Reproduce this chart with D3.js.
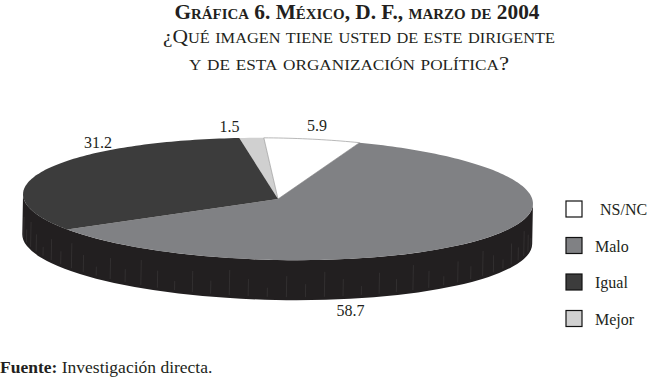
<!DOCTYPE html>
<html>
<head>
<meta charset="utf-8">
<script src="https://cdn.jsdelivr.net/npm/d3@7"></script>
<style>
  body { margin: 0; background: #fff; }
  text { font-family: "Liberation Serif", serif; fill: #231f20; }
</style>
</head>
<body>
<div id="chart"></div>
<script>
// slices in drawing order, clockwise from the top
const categories = ["Mejor", "NS/NC", "Malo", "Igual"];
const values = [1.5, 5.9, 58.7, 31.2];
const legendOrder = ["NS/NC", "Malo", "Igual", "Mejor"];
const titleLines = [
    "Gráfica 6. México, D. F., marzo de 2004",
    "¿Qué imagen tiene usted de este dirigente",
    "y de esta organización política?"
];
const sourceLabel = "Fuente:";
const sourceText = " Investigación directa.";

const width = 651, height = 381;
const cx = 278, cy = 199, rx = 255, ry = 61, depth = 40;
const rad = Math.PI / 180;
// where each value label sits around the rim (degrees, clockwise from top)
const labelAngle = [-10, 8, 165, 320];

const color = d3.scaleOrdinal()
    .domain(categories)
    .range(["#d0d0d0", "#ffffff", "#808184", "#3c3c3c"]);

const svg = d3.select("#chart").append("svg")
    .attr("width", width)
    .attr("height", height);

// title, small caps built by hand
const titleStyle = [
    {y: 19, size: 21, ratio: 0.7, weight: "bold", len: 365, x: 357},
    {y: 43, size: 19, ratio: 0.76, weight: "normal", len: 392, x: 359},
    {y: 70, size: 19, ratio: 0.76, weight: "normal", len: 320, x: 349}
];

function smallCaps(sel, str, size, ratio) {
    const parts = str.match(/[a-záéíóúñü]+|[^a-záéíóúñü]+/g);
    parts.forEach(p => {
        const lower = /[a-záéíóúñü]/.test(p[0]);
        sel.append("tspan")
            .style("font-size", (lower ? size * ratio : size) + "px")
            .text(lower ? p.toUpperCase() : p);
    });
}

svg.append("g").selectAll("text")
    .data(titleLines)
    .join("text")
    .attr("x", (d, i) => titleStyle[i].x)
    .attr("y", (d, i) => titleStyle[i].y)
    .attr("text-anchor", "middle")
    .attr("textLength", (d, i) => titleStyle[i].len)
    .attr("lengthAdjust", "spacingAndGlyphs")
    .style("font-weight", (d, i) => titleStyle[i].weight)
    .each(function(d, i) {
        smallCaps(d3.select(this), d, titleStyle[i].size, titleStyle[i].ratio);
    });

const pie = d3.pie().sort(null)
    .startAngle(-9 * rad)
    .endAngle(351 * rad);
const arcs = pie(values);

function pt(a) {
    return [cx + rx * Math.sin(a), cy - ry * Math.cos(a)];
}

function slicePath(d) {
    const n = Math.max(2, Math.ceil((d.endAngle - d.startAngle) / 0.02));
    const pts = [[cx, cy]];
    for (let i = 0; i <= n; i++) {
        pts.push(pt(d.startAngle + (d.endAngle - d.startAngle) * i / n));
    }
    return d3.line()(pts) + "Z";
}

const pieG = svg.append("g")
    .attr("transform", `rotate(1.1, ${cx}, ${cy})`);

// side wall
pieG.append("path")
    .attr("d", `M${cx + rx},${cy} A${rx},${ry} 0 0 1 ${cx - rx},${cy} L${cx - rx},${cy + depth} A${rx},${ry} 0 0 0 ${cx + rx},${cy + depth} Z`)
    .attr("fill", "#221f20");

// faint streaks on the wall
const streaks = d3.range(96, 264, 4.3).map((a, i) => ({a: a * rad, k: 0.3 + ((i * 7) % 5) * 0.1}));
pieG.append("g").selectAll("line")
    .data(streaks)
    .join("line")
    .attr("x1", d => pt(d.a)[0])
    .attr("x2", d => pt(d.a)[0])
    .attr("y1", d => pt(d.a)[1] + depth * (1 - d.k))
    .attr("y2", d => pt(d.a)[1] + depth - 3)
    .attr("stroke", "#6a6768")
    .attr("stroke-width", 0.5)
    .attr("opacity", 0.45);

// top
pieG.selectAll(".slice")
    .data(arcs)
    .join("path")
    .attr("class", "slice")
    .attr("d", slicePath)
    .attr("fill", (d, i) => color(categories[i]))
    .attr("stroke", (d, i) => categories[i] === "NS/NC" ? "#9a9a9a" : "none")
    .attr("stroke-width", 0.7);

// value labels
svg.append("g").selectAll("text")
    .data(arcs)
    .join("text")
    .attr("x", (d, i) => cx + (rx + 25) * Math.sin(labelAngle[i] * rad))
    .attr("y", (d, i) => {
        const c = Math.cos(labelAngle[i] * rad);
        return cy - (ry + 13) * c + (c < 0 ? depth : 0);
    })
    .attr("dy", "0.35em")
    .attr("text-anchor", "middle")
    .style("font-size", "16px")
    .text(d => d.data.toFixed(1));

// legend
const legend = svg.append("g").selectAll("g")
    .data(legendOrder)
    .join("g")
    .attr("transform", (d, i) => `translate(566, ${201 + i * 36.5})`);

legend.append("rect")
    .attr("width", 16)
    .attr("height", 16)
    .attr("fill", d => color(d))
    .attr("stroke", "#111")
    .attr("stroke-width", 1.2);

legend.append("text")
    .attr("x", d => d === "NS/NC" ? 34 : 29)
    .attr("y", 14)
    .style("font-size", "16px")
    .text(d => d);

// source
const src = svg.append("text")
    .attr("x", 0)
    .attr("y", 373)
    .style("font-size", "17.5px");
src.append("tspan").style("font-weight", "bold").text(sourceLabel);
src.append("tspan").text(sourceText);
</script>
</body>
</html>
